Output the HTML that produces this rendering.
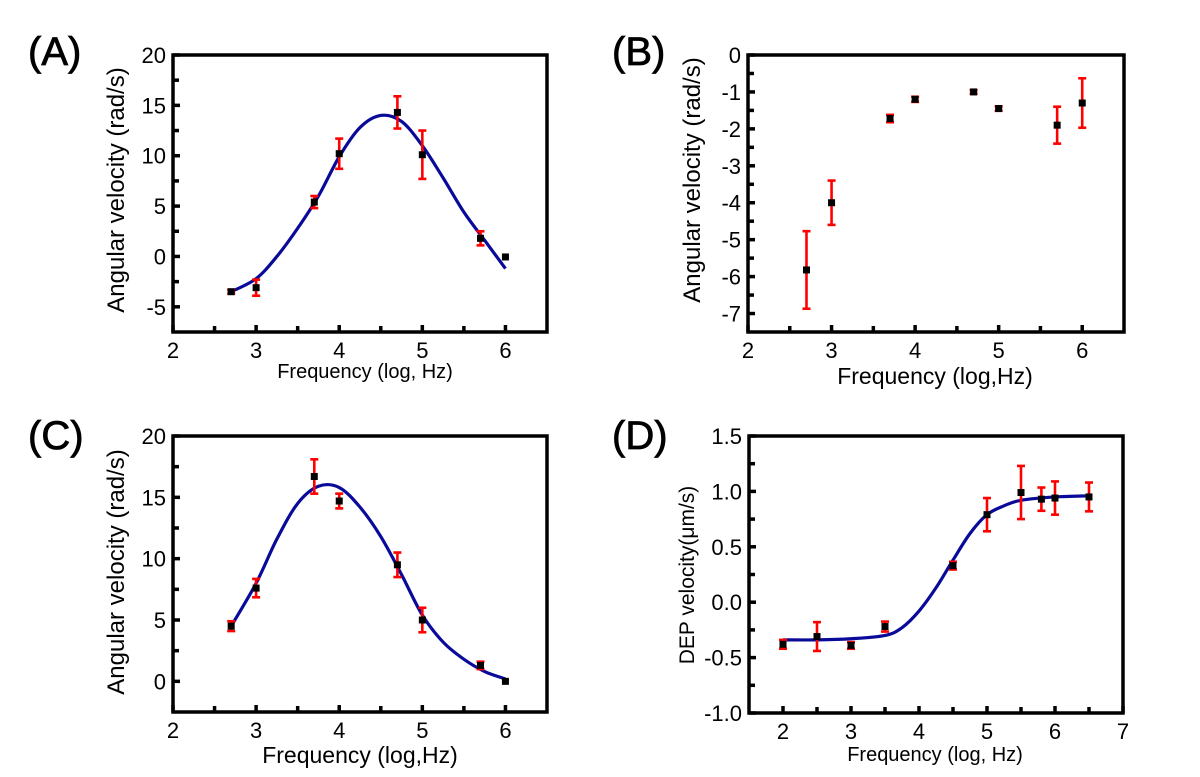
<!DOCTYPE html>
<html><head><meta charset="utf-8"><style>
html,body{margin:0;padding:0;background:#fff;}
svg{display:block;font-family:"Liberation Sans",Arial,sans-serif;}
</style></head><body>
<svg id="fig" width="1200" height="777" viewBox="0 0 1200 777"></svg>
<script>
// ---- Panel A data ----
const aX = [2.7,3,3.7,4,4.7,5,5.7,6];
const aY = [-3.5,-3.1,5.4,10.2,14.3,10.1,1.8,-0.05];
const aErr = [0.2,0.8,0.6,1.5,1.6,2.4,0.7,0];
const aFitX = [2.7,3.0,3.25,3.5,3.75,4.0,4.25,4.5,4.75,5.0,5.25,5.5,5.75,6.0];
const aFitY = [-3.5,-2.2,0,2.8,6.0,9.9,12.8,14.0,13.4,11.0,7.8,4.4,1.6,-1.2];
const aYTicks = [-5,0,5,10,15,20];
const abcXTicks = [2,3,4,5,6];
// ---- Panel B data ----
const bX = [2.7,3,3.7,4,4.7,5,5.7,6];
const bY = [-5.82,-4.0,-1.72,-1.2,-1.0,-1.45,-1.9,-1.3];
const bErr = [1.05,0.6,0.1,0.07,0.05,0.06,0.5,0.67];
const bYTicks = [-7,-6,-5,-4,-3,-2,-1,0];
// ---- Panel C data ----
const cX = [2.7,3,3.7,4,4.7,5,5.7,6];
const cY = [4.5,7.6,16.7,14.7,9.5,5.0,1.3,0];
const cErr = [0.4,0.75,1.4,0.6,1.0,1.0,0.3,0];
const cFitX = [2.7,3.0,3.25,3.5,3.75,4.0,4.25,4.5,4.75,5.0,5.25,5.5,5.75,6.0];
const cFitY = [4.5,8.0,11.6,14.5,15.9,15.8,14.2,11.8,8.7,5.4,3.2,1.8,0.8,0.2];
const cYTicks = [0,5,10,15,20];
// ---- Panel D data ----
const dX = [2,2.5,3,3.5,4.5,5,5.5,5.8,6,6.5];
const dY = [-0.38,-0.31,-0.39,-0.22,0.33,0.79,0.99,0.93,0.94,0.95];
const dErr = [0.04,0.13,0.03,0.045,0.035,0.15,0.24,0.105,0.15,0.13];
const dFitX = [2,2.5,3,3.5,3.75,4,4.25,4.5,4.75,5,5.25,5.5,6,6.5];
const dFitY = [-0.34,-0.34,-0.33,-0.30,-0.23,-0.08,0.13,0.38,0.62,0.79,0.87,0.92,0.95,0.96];
const dYTicks = [-1.0,-0.5,0.0,0.5,1.0,1.5];
const dXTicks = [2,3,4,5,6,7];

const NS = "http://www.w3.org/2000/svg";
const svg = document.getElementById('fig');
function mk(tag, attrs, parent){
  const e = document.createElementNS(NS, tag);
  for (const k in attrs) e.setAttribute(k, attrs[k]);
  (parent||svg).appendChild(e);
  return e;
}
function catmull(pts){
  let d = "M"+pts[0][0]+","+pts[0][1];
  for (let i=0;i<pts.length-1;i++){
    const p0=pts[Math.max(0,i-1)], p1=pts[i], p2=pts[i+1], p3=pts[Math.min(pts.length-1,i+2)];
    const c1=[p1[0]+(p2[0]-p0[0])/6, p1[1]+(p2[1]-p0[1])/6];
    const c2=[p2[0]-(p3[0]-p1[0])/6, p2[1]-(p3[1]-p1[1])/6];
    d += " C"+c1[0]+","+c1[1]+" "+c2[0]+","+c2[1]+" "+p2[0]+","+p2[1];
  }
  return d;
}
function panel(o){
  const g = mk('g', {});
  
  
  const sx = v => o.L + (v-o.x0)/(o.x1-o.x0)*(o.R-o.L);
  const sy = v => o.B - (v-o.y0)/(o.y1-o.y0)*(o.B-o.T);
  const tg = mk('g', {stroke:'#000','stroke-width':3.5}, g);
  o.xMinor.forEach(v=>{ mk('line',{x1:sx(v),x2:sx(v),y1:o.B,y2:o.B-6},tg); });
  o.yMinor.forEach(v=>{ mk('line',{x1:o.L,x2:o.L+6,y1:sy(v),y2:sy(v)},tg); });
  o.xTicks.forEach(v=>{
    mk('line',{x1:sx(v),x2:sx(v),y1:o.B,y2:o.B-7},tg);
    const t = mk('text',{x:sx(v),y:o.B+o.xlOff,'text-anchor':'middle','font-size':o.fs,fill:'#000'},g);
    t.textContent = v;
    
    
  });
  o.yTicks.forEach(v=>{
    mk('line',{x1:o.L,x2:o.L+7,y1:sy(v),y2:sy(v)},tg);
    const t = mk('text',{x:o.L-7,y:sy(v)+8,'text-anchor':'end','font-size':o.fs,fill:'#000'},g);
    t.textContent = o.fmt ? o.fmt(v) : v;
    
    
  });
  const fr = mk('rect',{x:o.L,y:o.T,width:o.R-o.L,height:o.B-o.T,fill:'none',stroke:'#000','stroke-width':3.5},g);
  
  
  if (o.fx){
    const pts = o.fx.map((x,i)=>[sx(x), sy(o.fy[i])]);
    const p = mk('path',{d:catmull(pts),fill:'none',stroke:'#0a0a9a','stroke-width':3.2},g);
    
    
  }
  o.x.forEach((x,i)=>{
    const cx=sx(x), cy=sy(o.y[i]), e=o.e[i];
    if (e>0){
      const eg = mk('g',{stroke:'#f00','stroke-width':2.6},g);
      
      
      const yt=sy(o.y[i]+e), yb=sy(o.y[i]-e);
      mk('line',{x1:cx,x2:cx,y1:yt,y2:yb},eg);
      mk('line',{x1:cx-4,x2:cx+4,y1:yt,y2:yt},eg);
      mk('line',{x1:cx-4,x2:cx+4,y1:yb,y2:yb},eg);
    }
    const r = mk('rect',{x:cx-3.5,y:cy-3.5,width:7,height:7,fill:'#000'},g);
    
    
  });
  const xt = mk('text',{x:o.xtX,y:o.xtY,'text-anchor':'middle','font-size':o.xtFs,fill:'#000'},g);
  xt.textContent = o.xTitle;
  
  
  const yt = mk('text',{x:0,y:0,'text-anchor':'middle','font-size':o.ytFs,fill:'#000',transform:'translate('+o.ytX+','+o.ytY+') rotate(-90)'},g);
  yt.textContent = o.yTitle;
  
  
  const pl = mk('text',{x:o.plX,y:o.plY,'font-size':40,fill:'#000',stroke:'#000','stroke-width':0.8},g);
  pl.textContent = '('+o.id+')';
  
  
}
const half = [2.5,3.5,4.5,5.5];
panel({id:'A',L:173,R:547,T:55,B:332,x0:2,x1:6.5,y0:-7.5,y1:20,
  x:aX,y:aY,e:aErr,fx:aFitX,fy:aFitY,xTicks:abcXTicks,yTicks:aYTicks,
  xMinor:half,yMinor:[-2.5,2.5,7.5,12.5,17.5],fs:22,xlOff:26,
  xTitle:'Frequency (log, Hz)',xtX:365,xtY:378,xtFs:20,
  yTitle:'Angular velocity (rad/s)',ytX:124,ytY:190,ytFs:24,plX:28,plY:65});
panel({id:'B',L:748,R:1124,T:55,B:332,x0:2,x1:6.5,y0:-7.5,y1:0,
  x:bX,y:bY,e:bErr,xTicks:abcXTicks,yTicks:bYTicks,
  xMinor:half,yMinor:[-6.5,-5.5,-4.5,-3.5,-2.5,-1.5,-0.5],fs:22,xlOff:26,
  xTitle:'Frequency (log,Hz)',xtX:935,xtY:384,xtFs:23,
  yTitle:'Angular velocity (rad/s)',ytX:700,ytY:180,ytFs:24,plX:612,plY:65});
panel({id:'C',L:173,R:547,T:436,B:712,x0:2,x1:6.5,y0:-2.5,y1:20,
  x:cX,y:cY,e:cErr,fx:cFitX,fy:cFitY,xTicks:abcXTicks,yTicks:cYTicks,
  xMinor:half,yMinor:[2.5,7.5,12.5,17.5],fs:22,xlOff:26,
  xTitle:'Frequency (log,Hz)',xtX:360,xtY:763,xtFs:23,
  yTitle:'Angular velocity (rad/s)',ytX:124,ytY:572,ytFs:24,plX:28,plY:449});
panel({id:'D',L:749,R:1123,T:436,B:713,x0:1.5,x1:7,y0:-1,y1:1.5,
  x:dX,y:dY,e:dErr,fx:dFitX,fy:dFitY,xTicks:dXTicks,yTicks:dYTicks,
  xMinor:[2.5,3.5,4.5,5.5,6.5],yMinor:[-0.75,-0.25,0.25,0.75,1.25],fs:22,xlOff:26,
  fmt:v=>v.toFixed(1),
  xTitle:'Frequency (log, Hz)',xtX:935,xtY:761,xtFs:20,
  yTitle:'DEP velocity(μm/s)',ytX:694,ytY:575,ytFs:21,plX:612,plY:449});
</script>
</body></html>
